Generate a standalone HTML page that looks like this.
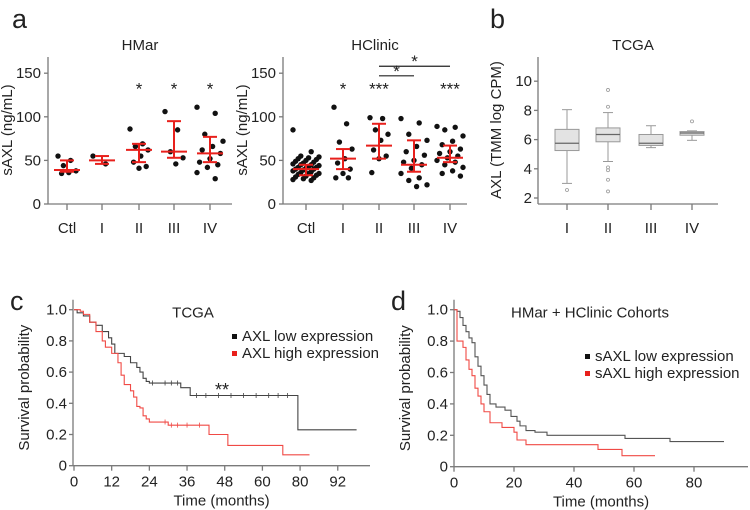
<!DOCTYPE html>
<html><head><meta charset="utf-8"><style>
body{margin:0;background:#fff}
svg{display:block;font-family:"Liberation Sans",Arial,sans-serif}
</style></head><body>
<svg id="fig" width="750" height="510" viewBox="0 0 750 510"></svg>
<script>
// ---- Panel a data ----
const aCats = ["Ctl","I","II","III","IV"];
const hmarPoints = [[55,50,44,38,36,35],[55,46],[86,69,66,62,55,48,43,41],[106,85,60,53,46],[111,104,80,72,66,62,58,52,48,45,42,36,29]];
const hmarMedian = [39,50,62,60,58];
const hmarLow = [37,46,48,53,48];
const hmarHigh = [50,55,69,95,77];
const hmarStars = ["","","*","*","*"];
const hcPoints = [[85,60,55,54,53,52,51,50,49,48,47,46,45,45,44,43,42,42,41,40,40,39,38,37,36,35,35,34,33,32,31,30,29,28,27],[111,92,71,63,52,47,40,35,30,30],[99,98,85,80,73,62,55,52,36],[98,93,80,73,66,60,56,50,48,45,41,35,30,27,22,20],[89,88,85,78,72,68,63,60,58,55,53,50,48,45,42,38,35,32]];
const hcMedian = [40,52,67,45,53];
const hcLow = [33,40,52,37,48];
const hcHigh = [45,63,92,73,67];
const hcStars = ["","*","***","","***"];
const aTicks = [0,50,100,150];
// ---- Panel b data ----
const bCats = ["I","II","III","IV"];
const bQ1 = [5.25,5.85,5.6,6.3];
const bMed = [5.75,6.35,5.75,6.45];
const bQ3 = [6.7,6.8,6.35,6.55];
const bWLo = [3.0,4.5,5.45,5.95];
const bWHi = [8.05,7.85,6.95,6.6];
const bOutliers = [[2.55],[9.4,8.25,4.1,3.9,3.25,2.45],[],[7.25]];
const bTicks = [2,4,6,8,10];
// ---- Panel c data ----
const cLowT = [0,1,3,5,7,9,11,12,13,16,18,20,21,22,23,24,34,37,71.3,90];
const cLowS = [1,0.98,0.96,0.92,0.90,0.86,0.82,0.78,0.72,0.70,0.66,0.63,0.60,0.56,0.54,0.53,0.50,0.45,0.23,0.23];
const cHighT = [0,2,3,5,7,9,10,12,14,15,16,18,19,20,21,22,23,24,30,43,49,66.5,75];
const cHighS = [1,0.99,0.97,0.92,0.86,0.80,0.76,0.72,0.66,0.58,0.52,0.48,0.44,0.38,0.37,0.32,0.30,0.28,0.26,0.20,0.13,0.07,0.07];
const cTickLabels = ["0","12","24","36","48","60","80","92"];
const cCensorLow = [25,29,31,33,39,42,46,50,54,58,62,65,68];
const cCensorHigh = [29,31,33,36,40];
// ---- Panel d data ----
const dLowT = [0,1,2,3,4,5,6,7,8,9,10,11,12,14,17,19,21,22,24,27,31,57,72,90];
const dLowS = [1,0.99,0.95,0.90,0.86,0.82,0.79,0.70,0.64,0.58,0.52,0.46,0.40,0.38,0.36,0.32,0.29,0.26,0.23,0.22,0.20,0.18,0.16,0.16];
const dHighT = [0,1,3,4,5,6,7,8,9,10,12,16,20,21,24,48,56,67];
const dHighS = [1,0.80,0.76,0.68,0.62,0.58,0.50,0.45,0.40,0.35,0.28,0.25,0.22,0.17,0.14,0.11,0.07,0.07];
const dTicks = [0,20,40,60,80];
const survTicks = [0,0.2,0.4,0.6,0.8,1.0];

const NS="http://www.w3.org/2000/svg";
const svg=document.getElementById('fig');
function el(tag,attrs,parent){const e=document.createElementNS(NS,tag);for(const k in attrs)e.setAttribute(k,attrs[k]);(parent||svg).appendChild(e);return e;}
function txt(x,y,s,size,anchor,parent,extra){const t=el('text',Object.assign({x:x,y:y,'font-size':size,'text-anchor':anchor||'middle',fill:'#222'},extra||{}),parent);t.textContent=s;return t;}
const AX='#7a7a7a';
const FS=15;

// panel letters
[["a",12,28],["b",490,28],["c",10,310],["d",391,310]].forEach(p=>{const t=txt(p[1],p[2],p[0],27,'start');});

// ---- dot plots ----
function dotPlot(name,x0,x1,catX,title,pts,med,lo,hi,stars){
  const g=el('g',{});
  
  
  const y=v=>204-v*0.872;
  el('line',{x1:x0,y1:57,x2:x0,y2:204,stroke:AX,'stroke-width':1.3},g);
  el('line',{x1:x0,y1:204,x2:x1,y2:204,stroke:AX,'stroke-width':1.3},g);
  aTicks.forEach(v=>{el('line',{x1:x0-4,y1:y(v),x2:x0,y2:y(v),stroke:AX,'stroke-width':1.3},g);txt(x0-7,y(v)+5,String(v),FS,'end',g);});
  const tt=txt((x0+x1)/2,50,title,FS,'middle',g);
  
  const yt=txt(0,0,'sAXL (ng/mL)',FS,'middle',g,{transform:`translate(${x0-36},130) rotate(-90)`});
  
  aCats.forEach((c,i)=>{
    const cx=catX[i];
    el('line',{x1:cx,y1:204,x2:cx,y2:210,stroke:AX,'stroke-width':1.3},g);
    txt(cx,233,c,FS,'middle',g);
    pts[i].forEach((v,j)=>{const off=((j*7)%11-5)*(pts[i].length>12?2.6:1.8);const d=el('circle',{cx:cx+off,cy:y(v),r:2.7,fill:'#111'},g);});
    el('line',{x1:cx,y1:y(hi[i]),x2:cx,y2:y(lo[i]),stroke:'#e8201c','stroke-width':2},g);
    el('line',{x1:cx-7,y1:y(hi[i]),x2:cx+7,y2:y(hi[i]),stroke:'#e8201c','stroke-width':2},g);
    el('line',{x1:cx-7,y1:y(lo[i]),x2:cx+7,y2:y(lo[i]),stroke:'#e8201c','stroke-width':2},g);
    el('line',{x1:cx-13,y1:y(med[i]),x2:cx+13,y2:y(med[i]),stroke:'#e8201c','stroke-width':2},g);
    if(stars[i])txt(cx,y(137)+10,stars[i],17,'middle',g);
  });
  return {g,y};
}
dotPlot('hmar-plot',48,232,[67,102,139,174,210],'HMar',hmarPoints,hmarMedian,hmarLow,hmarHigh,hmarStars);
const hc=dotPlot('hclinic-plot',283,467,[306,343,379,414,450],'HClinic',hcPoints,hcMedian,hcLow,hcHigh,hcStars);
[[379,414,147],[379,450,158]].forEach(b=>{const yy=hc.y(b[2]);el('line',{x1:b[0],y1:yy,x2:b[1],y2:yy,stroke:'#222','stroke-width':1.2},hc.g);txt((b[0]+b[1])/2,yy+1,'*',17,'middle',hc.g);});

// ---- box plot ----
(function(){
  const g=el('g',{});
  
  
  const x0=538,x1=718,catX=[567,608,651,692];
  const y=v=>198-(v-2)*14.6;
  el('line',{x1:x0,y1:57,x2:x0,y2:204,stroke:AX,'stroke-width':1.3},g);
  el('line',{x1:x0,y1:204,x2:x1,y2:204,stroke:AX,'stroke-width':1.3},g);
  bTicks.forEach(v=>{el('line',{x1:x0-4,y1:y(v),x2:x0,y2:y(v),stroke:AX,'stroke-width':1.3},g);txt(x0-6,y(v)+5,String(v),FS,'end',g);});
  txt(633,50,'TCGA',FS,'middle',g);
  txt(0,0,'AXL (TMM log CPM)',FS,'middle',g,{transform:'translate(501,130) rotate(-90)'});
  bCats.forEach((c,i)=>{
    const cx=catX[i];
    el('line',{x1:cx,y1:204,x2:cx,y2:210,stroke:AX,'stroke-width':1.3},g);
    txt(cx,233,c,FS,'middle',g);
    el('line',{x1:cx,y1:y(bWHi[i]),x2:cx,y2:y(bWLo[i]),stroke:'#999','stroke-width':1},g);
    el('line',{x1:cx-5,y1:y(bWHi[i]),x2:cx+5,y2:y(bWHi[i]),stroke:'#999','stroke-width':1},g);
    el('line',{x1:cx-5,y1:y(bWLo[i]),x2:cx+5,y2:y(bWLo[i]),stroke:'#999','stroke-width':1},g);
    const bx=el('rect',{x:cx-12,y:y(bQ3[i]),width:24,height:y(bQ1[i])-y(bQ3[i]),fill:'#e3e3e3',stroke:'#999','stroke-width':1},g);
    
    
    el('line',{x1:cx-12,y1:y(bMed[i]),x2:cx+12,y2:y(bMed[i]),stroke:'#666','stroke-width':1.2},g);
    bOutliers[i].forEach(v=>el('circle',{cx:cx,cy:y(v),r:1.5,fill:'none',stroke:'#999','stroke-width':0.8},g));
  });
})();

// ---- KM plots ----
function km(name,x0,x1,xs,yTop,yBot,series,ticks,tickLbl,title,titleX,legX,legY,legLabels){
  const g=el('g',{});
  
  
  const y=v=>yBot-v*(yBot-yTop);
  el('line',{x1:x0,y1:yTop-10,x2:x0,y2:yBot,stroke:AX,'stroke-width':1.3},g);
  el('line',{x1:x0,y1:yBot,x2:x1,y2:yBot,stroke:AX,'stroke-width':1.3},g);
  survTicks.forEach(v=>{el('line',{x1:x0-4,y1:y(v),x2:x0,y2:y(v),stroke:AX,'stroke-width':1.3},g);txt(x0-6,y(v)+5,v===0?'0':v.toFixed(1),FS,'end',g);});
  ticks.forEach((t,i)=>{const xx=xs(t);el('line',{x1:xx,y1:yBot,x2:xx,y2:yBot+5,stroke:AX,'stroke-width':1.3},g);txt(xx,yBot+21,tickLbl[i],FS,'middle',g);});
  txt((x0+x1)/2,yBot+40,'Time (months)',FS,'middle',g);
  txt(0,0,'Survival probability',FS,'middle',g,{transform:`translate(${x0-44},${(yTop+yBot)/2}) rotate(-90)`});
  txt(titleX,yTop+8,title,FS,'middle',g);
  series.forEach(s=>{
    let d=`M${xs(s.t[0])},${y(s.s[0])}`;
    for(let i=1;i<s.t.length;i++){d+=` H${xs(s.t[i])} V${y(s.s[i])}`;}
    const p=el('path',{d:d,fill:'none',stroke:s.c,'stroke-width':1.1},g);
    
    
    (s.cens||[]).forEach(t=>{let v=s.s[0];for(let i=0;i<s.t.length;i++)if(s.t[i]<=t)v=s.s[i];el('line',{x1:xs(t),y1:y(v)-2.5,x2:xs(t),y2:y(v)+2.5,stroke:s.c,'stroke-width':0.8},g);});
  });
  legLabels.forEach((l,i)=>{el('rect',{x:legX,y:legY+i*17-4,width:5,height:5,fill:i?'#e8201c':'#111'},g);txt(legX+10,legY+i*17+3,l,FS,'start',g);});
  return g;
}
const xc=t=>74+t*3.14;
const cg=km('tcga-km-plot',73,370,xc,309.7,465.7,
 [{t:cLowT,s:cLowS,c:'#444',n:'axl-low-curve',cens:cCensorLow},{t:cHighT,s:cHighS,c:'#f04a45',n:'axl-high-curve',cens:cCensorHigh}],
 [0,12,24,36,48,60,72,84],cTickLabels,'TCGA',193,232,338,['AXL low expression','AXL high expression']);
txt(222,396,'**',18,'middle',cg);
const xd=t=>454+t*3;
km('cohort-km-plot',454,748,xd,309.7,466.7,
 [{t:dLowT,s:dLowS,c:'#555',n:'saxl-low-curve'},{t:dHighT,s:dHighS,c:'#f04a45',n:'saxl-high-curve'}],
 dTicks,dTicks.map(String),'HMar + HClinic Cohorts',590,585,358,['sAXL low expression','sAXL high expression']);
</script>
</body></html>
